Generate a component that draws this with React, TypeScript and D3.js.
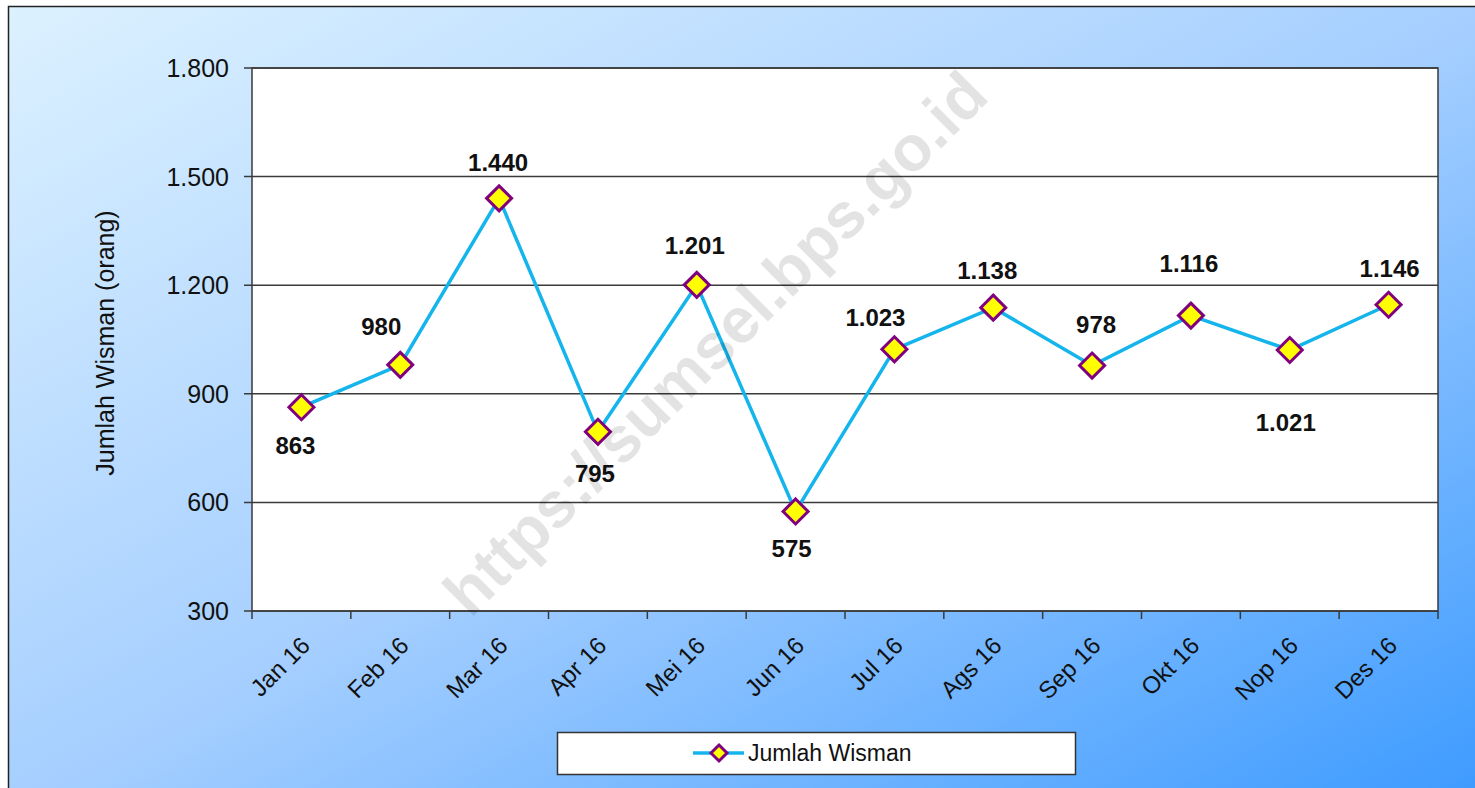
import React from "react";
import * as d3 from "d3";

const categories = ["Jan 16", "Feb 16", "Mar 16", "Apr 16", "Mei 16", "Jun 16", "Jul 16", "Ags 16", "Sep 16", "Okt 16", "Nop 16", "Des 16"];
const values = [863, 980, 1440, 795, 1201, 575, 1023, 1138, 978, 1116, 1021, 1146];
const valueLabels = ["863", "980", "1.440", "795", "1.201", "575", "1.023", "1.138", "978", "1.116", "1.021", "1.146"];
const yTicks = [300, 600, 900, 1200, 1500, 1800];
const yTickLabels = ["300", "600", "900", "1.200", "1.500", "1.800"];
const seriesName = "Jumlah Wisman";
const yTitle = "Jumlah Wisman (orang)";
const watermark = "https://sumsel.bps.go.id";

// label placement offsets relative to the marker (style only)
const labelOffsets: [number, number][] = [
  [-6, 47], [-19, -30], [-1, -27], [-3, 50], [-2, -31], [-4, 46],
  [-19, -23], [-6, -29], [4, -33], [-2, -44], [-4, 81], [1, -28],
];

const W = 1475, H = 788;
const plot = { left: 252, top: 68, right: 1438, bottom: 611 };
const font = "'Liberation Sans', Arial, sans-serif";

export default function App() {
  const x = d3.scaleBand<string>().domain(categories).range([plot.left, plot.right]);
  const y = d3.scaleLinear().domain([300, 1800]).range([plot.bottom, plot.top]);
  const cx = (c: string) => (x(c) as number) + x.bandwidth() / 2;
  const line = d3.line<number>().x((_, i) => cx(categories[i])).y((v) => y(v));
  const diamond = (r: number) => `M0,${-r}L${r},0L0,${r}L${-r},0Z`;
  const boundaries = categories.map((c) => x(c) as number).concat([plot.right]);

  return (
    <svg width={W} height={H} style={{ position: "absolute", left: 0, top: 0 }} fontFamily={font}>
      <defs>
        <linearGradient id="bg" x1="0" y1="0" x2="1" y2="1">
          <stop offset="0" stopColor="#dcf1ff" />
          <stop offset="0.5" stopColor="#a6cfff" />
          <stop offset="1" stopColor="#3b9aff" />
        </linearGradient>
      </defs>
      <rect x={0} y={0} width={W} height={H} fill="#ffffff" />
      <rect x={8.5} y={6.5} width={W + 10} height={H + 10} fill="url(#bg)" stroke="#222" strokeWidth={1.5} />
      <rect x={plot.left} y={plot.top} width={plot.right - plot.left} height={plot.bottom - plot.top} fill="#ffffff" />
      {yTicks.map((t, i) => (
        <g key={t}>
          <line x1={plot.left - 8} x2={plot.right} y1={y(t)} y2={y(t)} stroke="#3a3a3a" strokeWidth={1.5} />
          <text x={229} y={y(t)} dy="0.36em" textAnchor="end" fontSize={25} fill="#111">{yTickLabels[i]}</text>
        </g>
      ))}
      <rect x={plot.left} y={plot.top} width={plot.right - plot.left} height={plot.bottom - plot.top} fill="none" stroke="#3a3a3a" strokeWidth={1.5} />
      {boundaries.map((b, i) => (
        <line key={i} x1={b} x2={b} y1={plot.bottom} y2={plot.bottom + 8} stroke="#3a3a3a" strokeWidth={1.5} />
      ))}
      {categories.map((c) => (
        <text key={c} transform={`translate(${cx(c) + 10},${plot.bottom + 36}) rotate(-45)`} textAnchor="end" fontSize={24} fill="#111">{c}</text>
      ))}
      <text transform={`translate(114,343) rotate(-90)`} textAnchor="middle" fontSize={25} fill="#111">{yTitle}</text>
      <path d={line(values) as string} fill="none" stroke="#14b4ec" strokeWidth={3.5} />
      {values.map((v, i) => (
        <path key={i} d={diamond(12.5)} transform={`translate(${cx(categories[i])},${y(v)})`} fill="#ffff00" stroke="#800080" strokeWidth={3} />
      ))}
      {values.map((v, i) => (
        <text key={i} x={cx(categories[i]) + labelOffsets[i][0]} y={y(v) + labelOffsets[i][1]} textAnchor="middle" fontSize={24} fontWeight="bold" fill="#111">{valueLabels[i]}</text>
      ))}
      <text transform={`translate(715,343) rotate(-45)`} textAnchor="middle" dy="0.35em" fontSize={64} fontWeight="bold" fill="#000" fillOpacity={0.11}>{watermark}</text>
      <rect x={557.5} y={732.5} width={518} height={42} fill="#ffffff" stroke="#333" strokeWidth={1.5} />
      <line x1={693} x2={744} y1={753} y2={753} stroke="#14b4ec" strokeWidth={3.5} />
      <path d={diamond(8)} transform="translate(719,753)" fill="#ffff00" stroke="#800080" strokeWidth={3} />
      <text x={748} y={753} dy="0.36em" fontSize={23} fill="#111">{seriesName}</text>
    </svg>
  );
}
